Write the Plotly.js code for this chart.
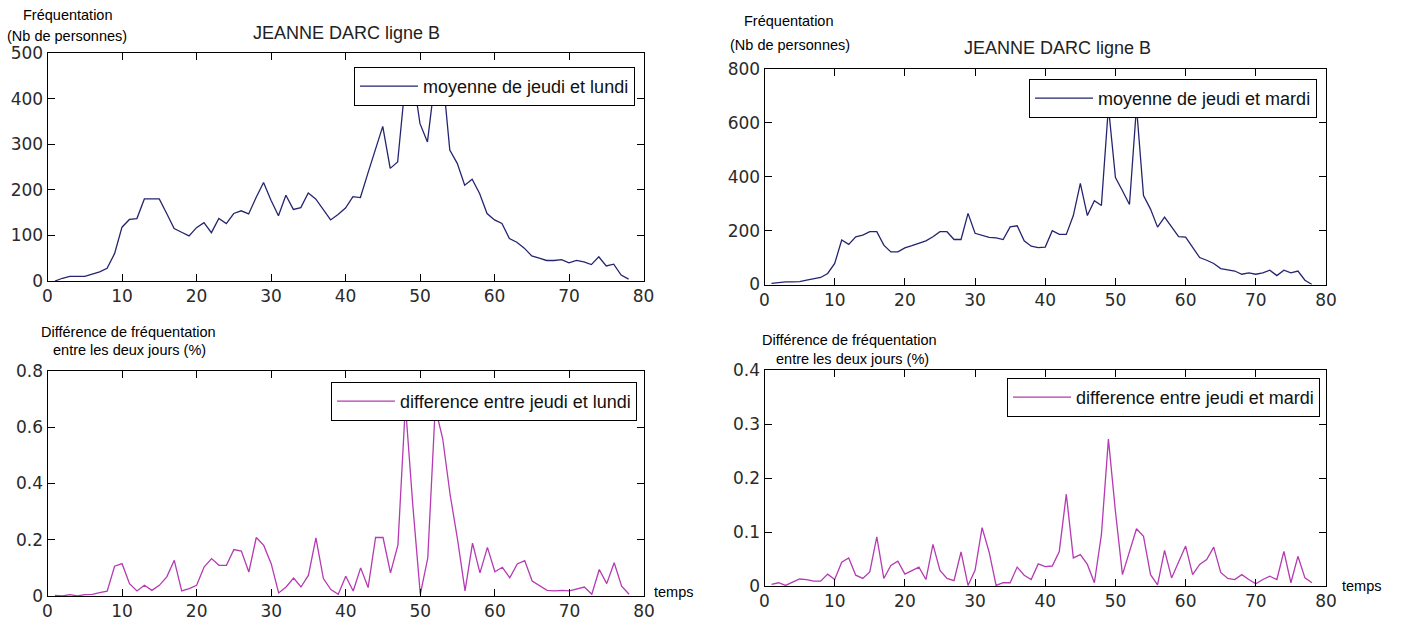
<!DOCTYPE html>
<html>
<head>
<meta charset="utf-8">
<script src="https://cdn.plot.ly/plotly-3.0.1.min.js"></script>
<style>html,body{margin:0;padding:0;background:#fff;}#chart{width:1402px;height:623px;}</style>
</head>
<body>
<div id="chart"></div>
<script>
// ---- data ----
const temps = [1,2,3,4,5,6,7,8,9,10,11,12,13,14,15,16,17,18,19,20,21,22,23,24,25,26,27,28,29,30,31,32,33,34,35,36,37,38,39,40,41,42,43,44,45,46,47,48,49,50,51,52,53,54,55,56,57,58,59,60,61,62,63,64,65,66,67,68,69,70,71,72,73,74,75,76,77,78];

const moyenneJeudiLundi = [0,6,10,10,10,15,20,28,60,118,135,137,180,180,180,148,115,107,99,117,128,106,137,126,148,154,147,183,216,177,143,188,157,161,193,180,157,134,146,160,185,183,236,287,339,247,261,430,455,345,305,440,460,287,258,210,223,192,148,134,126,93,85,72,55,50,45,45,47,40,45,42,36,53,33,37,13,4];

const moyenneJeudiMardi = [4,7,10,10,11,16,21,26,41,78,165,149,177,183,196,196,146,121,121,136,144,152,162,177,196,196,167,167,264,190,183,175,173,167,214,218,162,142,137,139,200,186,186,256,375,256,311,293,660,397,348,297,660,330,280,213,250,213,178,176,139,100,90,78,59,55,50,38,43,38,43,53,33,53,43,50,16,0];

const diffJeudiLundi = [0.002,0,0.005,0,0.005,0.006,0.012,0.017,0.106,0.115,0.044,0.018,0.038,0.02,0.038,0.068,0.127,0.018,0.026,0.038,0.103,0.133,0.109,0.109,0.165,0.16,0.085,0.208,0.18,0.115,0.011,0.032,0.064,0.032,0.074,0.207,0.062,0.023,0.006,0.07,0.018,0.10,0.03,0.208,0.208,0.082,0.182,0.68,0.32,0.006,0.135,0.67,0.56,0.36,0.2,0.018,0.188,0.082,0.173,0.086,0.102,0.065,0.114,0.126,0.053,0.035,0.02,0.018,0.02,0.018,0.026,0.032,0.006,0.094,0.044,0.118,0.035,0.006];

const diffJeudiMardi = [0.003,0.006,0.001,0.007,0.013,0.012,0.009,0.009,0.022,0.012,0.044,0.052,0.02,0.014,0.026,0.091,0.014,0.038,0.046,0.022,0.028,0.035,0.012,0.077,0.029,0.014,0.01,0.063,0.001,0.029,0.108,0.063,0.001,0.006,0.006,0.035,0.02,0.012,0.041,0.036,0.037,0.064,0.17,0.052,0.058,0.04,0.006,0.095,0.272,0.138,0.021,0.064,0.106,0.092,0.021,0.002,0.066,0.015,0.046,0.074,0.021,0.04,0.049,0.072,0.025,0.014,0.012,0.021,0.012,0.004,0.012,0.018,0.012,0.064,0.006,0.055,0.015,0.006];

const xTicks = [0,10,20,30,40,50,60,70,80];
const titreGraphe = 'JEANNE DARC ligne B';
const nomsSeries = ['moyenne de jeudi et lundi','moyenne de jeudi et mardi','difference entre jeudi et lundi','difference entre jeudi et mardi'];

// ---- layout helpers ----
const W = 1402, H = 623;
const fx = p => p / W;
const fy = p => 1 - p / H;

const tickFont = {family: 'DejaVu Sans, Liberation Sans, sans-serif', size: 17, color: '#2a2a2a'};
const legFont = {family: 'Liberation Sans, Arial, sans-serif', size: 18, color: '#111'};
const lblFont = {family: 'Liberation Sans, Arial, sans-serif', size: 14.5, color: '#000'};
const titleFont = {family: 'Liberation Sans, Arial, sans-serif', size: 18, color: '#222'};

const blue = '#25256f';
const mag = '#b53ab3';

const traces = [
  {x: temps, y: moyenneJeudiLundi, xaxis: 'x', yaxis: 'y', mode: 'lines', name: nomsSeries[0], line: {color: blue, width: 1.3}, legend: 'legend'},
  {x: temps, y: moyenneJeudiMardi, xaxis: 'x2', yaxis: 'y2', mode: 'lines', name: nomsSeries[1], line: {color: blue, width: 1.3}, legend: 'legend2'},
  {x: temps, y: diffJeudiLundi, xaxis: 'x3', yaxis: 'y3', mode: 'lines', name: nomsSeries[2], line: {color: mag, width: 1.3}, legend: 'legend3'},
  {x: temps, y: diffJeudiMardi, xaxis: 'x4', yaxis: 'y4', mode: 'lines', name: nomsSeries[3], line: {color: mag, width: 1.3}, legend: 'legend4'}
];

function xax(l, r, anchor) {
  return {domain: [fx(l), fx(r)], anchor: anchor, range: [0, 80], tickvals: xTicks, ticktext: xTicks.map(String),
    ticks: 'inside', ticklen: 7, tickcolor: '#000', tickwidth: 1, showline: true, linecolor: '#000', linewidth: 1,
    mirror: 'ticks', showgrid: false, zeroline: false, tickfont: tickFont, fixedrange: true, automargin: false};
}
function yax(t, b, anchor, rng, dt) {
  return {domain: [fy(b), fy(t)], anchor: anchor, range: rng, dtick: dt, tick0: 0,
    ticks: 'inside', ticklen: 7, tickcolor: '#000', tickwidth: 1, showline: true, linecolor: '#000', linewidth: 1,
    mirror: 'ticks', showgrid: false, zeroline: false, tickfont: tickFont, fixedrange: true, automargin: false};
}
function leg(right, top) {
  return {x: fx(right), y: fy(top), xanchor: 'right', yanchor: 'top', bgcolor: '#fff', bordercolor: '#000', borderwidth: 1,
    font: legFont, itemwidth: 58};
}
function ann(text, x, y, font, xanchor) {
  return {text: text, x: fx(x), y: fy(y), xref: 'paper', yref: 'paper', showarrow: false, font: font,
    xanchor: xanchor || 'center', yanchor: 'middle', borderpad: 0};
}

const layout = {
  width: W, height: H,
  margin: {l: 0, r: 0, t: 0, b: 0},
  paper_bgcolor: '#fff', plot_bgcolor: '#fff',
  showlegend: true,
  xaxis: xax(47.5, 643.5, 'y'),
  yaxis: yax(53, 281, 'x', [0, 500], 100),
  xaxis2: xax(764.5, 1326, 'y2'),
  yaxis2: yax(69, 284.5, 'x2', [0, 800], 200),
  xaxis3: xax(47.5, 644, 'y3'),
  yaxis3: yax(371, 596, 'x3', [0, 0.8], 0.2),
  xaxis4: xax(764.5, 1326, 'y4'),
  yaxis4: yax(370, 586, 'x4', [0, 0.4], 0.1),
  legend: leg(635, 67),
  legend2: leg(1317, 79),
  legend3: leg(637, 382),
  legend4: leg(1320, 378),
  annotations: [
    ann('Fréquentation', 67, 15, lblFont),
    ann('(Nb de personnes)', 67, 36, lblFont),
    ann('Fréquentation', 788, 21, lblFont),
    ann('(Nb de personnes)', 790, 45, lblFont),
    ann(titreGraphe, 346, 33, titleFont),
    ann(titreGraphe, 1057, 48, titleFont),
    ann('Différence de fréquentation', 128, 332, lblFont),
    ann('entre les deux jours (%)', 129, 350, lblFont),
    ann('Différence de fréquentation', 849, 340, lblFont),
    ann('entre les deux jours (%)', 852, 359, lblFont),
    ann('temps', 674, 592, lblFont),
    ann('temps', 1362, 586, lblFont)
  ]
};

Plotly.newPlot('chart', traces, layout, {staticPlot: true, displayModeBar: false});
</script>
</body>
</html>
